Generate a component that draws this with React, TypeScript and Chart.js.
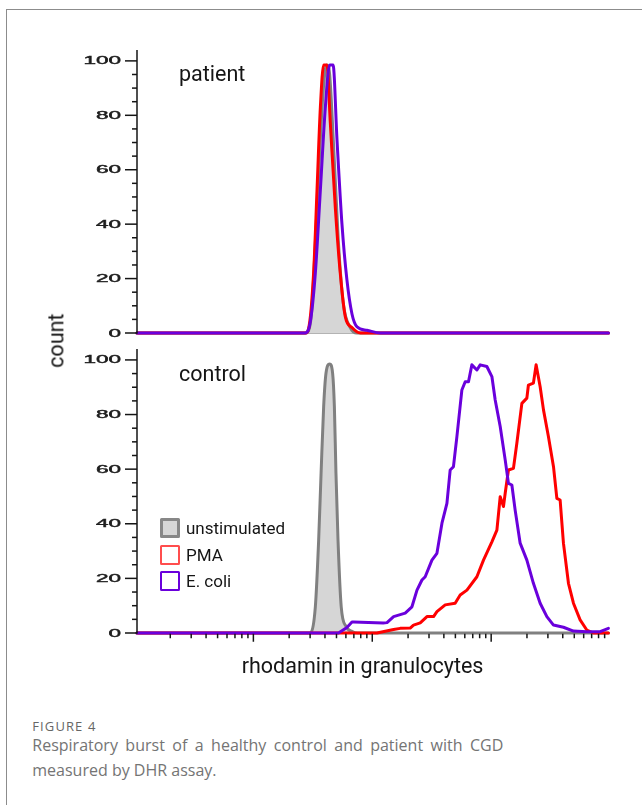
import React, { useEffect, useRef } from 'react';
import { Chart, registerables } from 'chart.js';

Chart.register(...registerables);

// ---------- data ----------
const SERIES_NAMES = ['unstimulated', 'PMA', 'E. coli'];
const PANEL_LABELS = ['patient', 'control'];

const X_TICKS = [
  20, 30, 40, 50, 60, 70, 80, 90, 100,
  200, 300, 400, 500, 600, 700, 800, 900, 1000,
  2000, 3000, 4000, 5000, 6000, 7000, 8000, 9000, 10000,
  20000, 30000, 40000, 50000, 60000, 70000, 80000, 90000,
];
const X_MAJOR_TICKS = [100, 1000, 10000];
const Y_MAJOR_TICKS = [0, 20, 40, 60, 80, 100];
const Y_TICK_LABELS = ['0', '20', '40', '60', '80', '100'];
const Y_MINOR_TICKS = [5, 10, 15, 25, 30, 35, 45, 50, 55, 65, 70, 75, 85, 90, 95];

// patient
const PATIENT_UNSTIM_X = [10.5, 280, 300, 311, 343, 378, 400, 416, 438, 470, 518, 570, 653, 743, 97000];
const PATIENT_UNSTIM_Y = [0, 0, 3, 9.7, 46, 83, 96, 98.5, 95, 71, 34, 11, 2, 0, 0];
const PATIENT_PMA_X = [10.5, 275, 291, 321, 343, 366, 390, 416, 444, 489, 538, 593, 675, 793, 97000];
const PATIENT_PMA_Y = [0, 0, 1.5, 22, 52.6, 83, 98.5, 98.5, 77, 46, 22, 6, 2, 0, 0];
const PATIENT_ECOLI_X = [10.5, 273, 301, 332, 366, 403, 438, 468, 505, 556, 612, 675, 743, 902, 1167, 97000];
const PATIENT_ECOLI_Y = [0, 0, 4, 22, 52.6, 83, 98.5, 98.5, 71, 40, 19.5, 7, 2.3, 1, 0, 0];

// control
const CONTROL_UNSTIM_X = [10.5, 297, 332, 354, 371, 390, 408, 438, 464, 480, 495, 515, 548, 604, 679, 748, 97000];
const CONTROL_UNSTIM_Y = [0, 0, 9.6, 34, 58.5, 82.9, 95.1, 98.5, 95.1, 82.9, 58.5, 34, 9.6, 2.3, 0.5, 0, 0];
const CONTROL_PMA_X = [
  10.5, 1095, 1511, 1718, 2084, 2223, 2531, 2884, 3276, 3497, 4106, 4977, 5486, 6252, 7585, 8616,
  10140, 11170, 11910, 12690, 13120, 13970, 15390, 16440, 18120, 19960, 20570, 22660, 23880, 25820,
  27540, 30320, 33430, 35680, 38020, 40530, 44670, 49210, 55980, 63700, 72430, 96830,
];
const CONTROL_PMA_Y = [
  0, 0, 1.3, 1.7, 1.8, 2.9, 3.7, 6, 6, 7.8, 10.3, 10.9, 13.9, 15.7, 20.6, 26.7,
  33.4, 37.7, 49.9, 46.3, 51.2, 59.7, 60.3, 69.5, 84.1, 86, 90.8, 91.5, 98.2, 90.2,
  81.7, 71.9, 60.9, 49.3, 48.7, 32.9, 18.2, 10.9, 4.8, 1.1, 0, 0,
];
const CONTROL_ECOLI_X = [
  10.5, 520, 612, 675, 697, 1236, 1330, 1511, 1892, 2156, 2377, 2617, 2787, 3175, 3497, 3855,
  4244, 4521, 4817, 5149, 5671, 6047, 6446, 6880, 7585, 8087, 9200, 10140, 10810, 11910,
  13120, 13970, 14930, 15910, 17530, 19960, 22660, 25820, 29400, 33430, 40530, 49210,
  63700, 82410, 96830,
];
const CONTROL_ECOLI_Y = [
  0, 0, 2, 4, 4, 3.7, 3.8, 6, 7.3, 9.6, 15.7, 19.4, 20.6, 26.7, 29.2, 40.2,
  47.5, 59.7, 60.9, 71.9, 89, 92, 92, 98.2, 96.3, 98.2, 97.6, 93.9, 85.3, 75.6,
  63.4, 54.8, 54.2, 45, 32.9, 26.7, 18.2, 10.9, 6, 2.9, 2.1, 0.7,
  0.5, 0.5, 1.7,
];

// ---------- styles ----------
const GREY_LINE = '#808080';
const GREY_FILL = '#d6d6d6';
const RED = '#ff0000';
const PURPLE = '#6a00dc';

const toPoints = (xs: number[], ys: number[]) => xs.map((x, i) => ({ x, y: ys[i] }));

function makeDatasets(
  unstimX: number[], unstimY: number[],
  pmaX: number[], pmaY: number[],
  ecoliX: number[], ecoliY: number[],
  smooth: boolean,
) {
  return [
    {
      label: SERIES_NAMES[0],
      data: toPoints(unstimX, unstimY),
      borderColor: GREY_LINE,
      backgroundColor: GREY_FILL,
      borderWidth: 3,
      fill: 'origin',
      cubicInterpolationMode: 'monotone',
      order: 3,
      clip: false,
    },
    {
      label: SERIES_NAMES[1],
      data: toPoints(pmaX, pmaY),
      borderColor: RED,
      backgroundColor: RED,
      borderWidth: 3,
      fill: false,
      cubicInterpolationMode: smooth ? 'monotone' : 'default',
      tension: 0,
      order: 2,
      clip: false,
    },
    {
      label: SERIES_NAMES[2],
      data: toPoints(ecoliX, ecoliY),
      borderColor: PURPLE,
      backgroundColor: PURPLE,
      borderWidth: 3,
      fill: false,
      cubicInterpolationMode: smooth ? 'monotone' : 'default',
      tension: 0,
      order: 1,
      clip: false,
    },
  ];
}

function axesPlugin(showXTicks: boolean) {
  return {
    id: 'customAxes',
    beforeDatasetsDraw(chart: any) {
      const { ctx, chartArea, scales } = chart;
      const y0 = scales.y.getPixelForValue(0);
      ctx.save();
      ctx.strokeStyle = '#9a9a9a';
      ctx.lineWidth = 1.5;
      ctx.beginPath();
      ctx.moveTo(chartArea.left, y0);
      ctx.lineTo(chartArea.right, y0);
      ctx.stroke();
      ctx.restore();
    },
    afterDatasetsDraw(chart: any) {
      const { ctx, chartArea, scales } = chart;
      const x = chartArea.left;
      const y0 = scales.y.getPixelForValue(0);
      const line = (x1: number, y1: number, x2: number, y2: number) => {
        ctx.beginPath();
        ctx.moveTo(x1, y1);
        ctx.lineTo(x2, y2);
        ctx.stroke();
      };
      ctx.save();
      ctx.strokeStyle = '#151515';
      ctx.lineWidth = 1.5;
      line(x, chartArea.top, x, y0 + 0.75);
      Y_MAJOR_TICKS.forEach((v) => {
        const y = scales.y.getPixelForValue(v);
        line(x - 12, y, x, y);
      });
      Y_MINOR_TICKS.forEach((v) => {
        const y = scales.y.getPixelForValue(v);
        line(x - 5, y, x, y);
      });
      if (showXTicks) {
        X_TICKS.forEach((v) => {
          const px = scales.x.getPixelForValue(v);
          const len = X_MAJOR_TICKS.includes(v) ? 8 : 4.5;
          line(px, y0 + 0.75, px, y0 + 0.75 + len);
        });
      }
      ctx.fillStyle = '#1e1e1e';
      ctx.strokeStyle = '#1e1e1e';
      ctx.lineWidth = 0.45;
      ctx.font = '11px "Liberation Sans", Arial, sans-serif';
      ctx.textAlign = 'right';
      ctx.textBaseline = 'middle';
      Y_MAJOR_TICKS.forEach((v, i) => {
        const y = scales.y.getPixelForValue(v);
        ctx.save();
        ctx.translate(x - 16, y + 0.5);
        ctx.scale(2.05, 1);
        ctx.fillText(Y_TICK_LABELS[i], 0, 0);
        ctx.strokeText(Y_TICK_LABELS[i], 0, 0);
        ctx.restore();
      });
      ctx.restore();
    },
  };
}

type PanelProps = {
  top: number;
  height: number;
  padTop: number;
  padBottom: number;
  datasets: any[];
  showXTicks: boolean;
};

function Panel({ top, height, padTop, padBottom, datasets, showXTicks }: PanelProps) {
  const ref = useRef<HTMLCanvasElement | null>(null);
  useEffect(() => {
    if (!ref.current) return;
    const chart = new Chart(ref.current, {
      type: 'line',
      data: { datasets },
      options: {
        animation: false,
        responsive: false,
        maintainAspectRatio: false,
        devicePixelRatio: 1,
        layout: { padding: { top: padTop, bottom: padBottom, left: 137, right: 33.5 } },
        elements: { point: { radius: 0 }, line: { borderJoinStyle: 'round', borderCapStyle: 'round' } },
        scales: {
          x: { type: 'logarithmic', min: 10.5, max: 97000, display: false },
          y: { type: 'linear', min: 0, max: 104, display: false },
        },
        plugins: {
          legend: { display: false },
          tooltip: { enabled: false },
          title: { display: false },
        },
      },
      plugins: [axesPlugin(showXTicks)],
    } as any);
    return () => chart.destroy();
  }, []);
  return (
    <canvas
      ref={ref}
      width={642}
      height={height}
      style={{ position: 'absolute', left: 0, top, width: 642, height }}
    />
  );
}

const abs = (extra: React.CSSProperties): React.CSSProperties => ({ position: 'absolute', whiteSpace: 'nowrap', ...extra });

export default function App() {
  const patientSets = makeDatasets(
    PATIENT_UNSTIM_X, PATIENT_UNSTIM_Y, PATIENT_PMA_X, PATIENT_PMA_Y, PATIENT_ECOLI_X, PATIENT_ECOLI_Y, true,
  );
  const controlSets = makeDatasets(
    CONTROL_UNSTIM_X, CONTROL_UNSTIM_Y, CONTROL_PMA_X, CONTROL_PMA_Y, CONTROL_ECOLI_X, CONTROL_ECOLI_Y, false,
  );
  const labelFont: React.CSSProperties = { fontFamily: 'Roboto, sans-serif', fontSize: 21.5, lineHeight: '21.5px', color: '#151515' };
  const legendRows = [
    { top: 518, border: '3px solid #878787', bg: GREY_FILL },
    { top: 544.5, border: '2.5px solid #ff4d4d', bg: '#ffffff' },
    { top: 571, border: '2.5px solid ' + PURPLE, bg: '#ffffff' },
  ];
  return (
    <div style={{ position: 'absolute', left: 0, top: 0, width: 642, height: 805, overflow: 'hidden', background: '#fff' }}>
      <div style={{ position: 'absolute', left: 6, top: 9, width: 800, height: 900, borderLeft: '1px solid #8c8c8c', borderTop: '1px solid #8c8c8c' }} />
      <Panel top={40} height={300} padTop={10} padBottom={7} datasets={patientSets} showXTicks={false} />
      <Panel top={340} height={320} padTop={9} padBottom={27} datasets={controlSets} showXTicks={true} />

      <div style={abs({ ...labelFont, left: 179, top: 62.9 })}>{PANEL_LABELS[0]}</div>
      <div style={abs({ ...labelFont, left: 179, top: 362.9 })}>{PANEL_LABELS[1]}</div>

      <div
        style={abs({
          ...labelFont,
          lineHeight: '25.2px',
          left: 56 - 40,
          top: 341 - 12.6,
          width: 80,
          height: 25.2,
          textAlign: 'center',
          transform: 'rotate(-90deg)',
        })}
      >
        count
      </div>
      <div style={abs({ ...labelFont, left: 241.7, top: 655.2 })}>rhodamin in granulocytes</div>

      {legendRows.map((r, i) => (
        <div key={i} style={abs({ left: 160, top: r.top, height: 20, display: 'flex', alignItems: 'center' })}>
          <div style={{ width: 20, height: 20, boxSizing: 'border-box', border: r.border, background: r.bg, borderRadius: 1.5 }} />
          <div style={{ marginLeft: 6, fontFamily: 'Roboto, sans-serif', fontSize: 17, color: '#151515' }}>{SERIES_NAMES[i]}</div>
        </div>
      ))}

      <div style={abs({ left: 32.3, top: 719.5, fontFamily: '"Open Sans", sans-serif', fontSize: 13, lineHeight: '13px', color: '#666', letterSpacing: 1.1 })}>
        FIGURE 4
      </div>
      <div
        style={{
          position: 'absolute',
          left: 32.3,
          top: 733,
          width: 471,
          fontFamily: '"Open Sans", sans-serif',
          fontSize: 16,
          lineHeight: '25px',
          color: '#747474',
          textAlign: 'justify',
          textAlignLast: 'justify',
          whiteSpace: 'nowrap',
        }}
      >
        Respiratory burst of a healthy control and patient with CGD
      </div>
      <div
        style={abs({
          left: 32.3,
          top: 758,
          fontFamily: '"Open Sans", sans-serif',
          fontSize: 16,
          lineHeight: '25px',
          color: '#747474',
        })}
      >
        measured by DHR assay.
      </div>
    </div>
  );
}
